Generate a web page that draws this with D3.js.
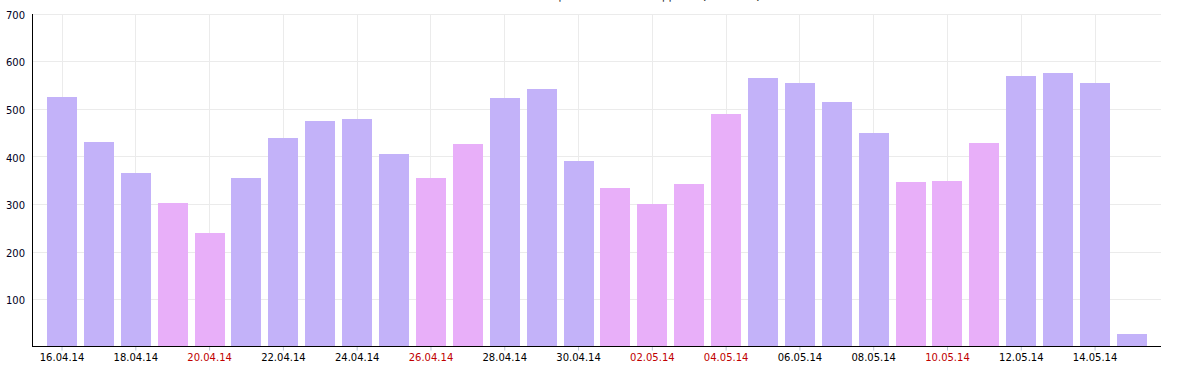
<!DOCTYPE html>
<html>
<head>
<meta charset="utf-8">
<script src="https://cdn.jsdelivr.net/npm/d3@7"></script>
<style>
  html, body { margin: 0; padding: 0; background: #fff; }
  svg { display: block; }
  text { font-family: "DejaVu Sans", Verdana, sans-serif; }
</style>
</head>
<body>
<svg id="chart" width="1178" height="366"></svg>
<script>
const dates = ["16.04.14","17.04.14","18.04.14","19.04.14","20.04.14","21.04.14","22.04.14","23.04.14","24.04.14","25.04.14",
               "26.04.14","27.04.14","28.04.14","29.04.14","30.04.14","01.05.14","02.05.14","03.05.14","04.05.14","05.05.14",
               "06.05.14","07.05.14","08.05.14","09.05.14","10.05.14","11.05.14","12.05.14","13.05.14","14.05.14","15.05.14"];
const values = [526, 431, 366, 303, 240, 356, 440, 475, 480, 406,
                356, 427, 524, 542, 391, 335, 301, 343, 490, 566,
                555, 515, 450, 347, 349, 429, 570, 576, 555, 28];
const holiday = [0,0,0,1,1,0,0,0,0,0,
                 1,1,0,0,0,1,1,1,1,0,
                 0,0,0,1,1,1,0,0,0,0];
const yTicks = [100, 200, 300, 400, 500, 600, 700];
const titleText = "Количество посещений сайта по дням (визиты)";

const svg = d3.select("#chart");
const mLeft = 33, mRight = 1161, mTop = 14, mBottom = 347.4;

const x = d3.scaleBand().domain(dates).range([mLeft, mRight]).paddingInner(0.1866).paddingOuter(0.38);
const y = d3.scaleLinear().domain([0, 700]).range([mBottom, mTop]);
const crisp = v => Math.floor(v) + 0.5;

const tickDates = dates.filter((d, i) => i % 2 === 0);
const isHoliday = d => holiday[dates.indexOf(d)] === 1;

// title (mostly cut off at the top)
svg.append("text").attr("x", 597).attr("y", 0).attr("text-anchor", "middle")
  .attr("font-size", 13).attr("fill", "#222").text(titleText);

// horizontal grid
svg.append("g").selectAll("line").data(yTicks).join("line")
  .attr("x1", mLeft).attr("x2", mRight)
  .attr("y1", d => crisp(y(d))).attr("y2", d => crisp(y(d)))
  .attr("stroke", "#ebebeb").attr("stroke-width", 1);

// vertical grid
svg.append("g").selectAll("line").data(tickDates).join("line")
  .attr("x1", d => crisp(x(d) + x.bandwidth() / 2)).attr("x2", d => crisp(x(d) + x.bandwidth() / 2))
  .attr("y1", mTop).attr("y2", mBottom)
  .attr("stroke", "#ebebeb").attr("stroke-width", 1);

// bars
svg.append("g").selectAll("rect").data(values).join("rect")
  .attr("x", (d, i) => Math.round(x(dates[i])))
  .attr("width", Math.round(x.bandwidth()))
  .attr("y", d => Math.round(y(d)))
  .attr("height", d => Math.round(y(0)) - Math.round(y(d)))
  .attr("fill", (d, i) => holiday[i] ? "#e8aff9" : "#c3b2f9");

// x axis
const xAxis = d3.axisBottom(x).tickValues(tickDates).tickSize(4).tickPadding(3);
const gx = svg.append("g").attr("transform", "translate(0,346.5)").call(xAxis);
gx.select(".domain").remove();
gx.selectAll(".tick line").attr("stroke", "#b8c4d4");
gx.selectAll(".tick text").attr("font-size", 10).attr("font-family", "DejaVu Sans, Verdana, sans-serif")
  .attr("fill", d => isHoliday(d) ? "#c00000" : "#000");

// y axis
const yAxis = d3.axisLeft(y).tickValues(yTicks).tickSize(0).tickPadding(8);
const gy = svg.append("g").attr("transform", `translate(${mLeft},0)`).call(yAxis);
gy.select(".domain").remove();
gy.selectAll(".tick text").attr("font-size", 10).attr("font-family", "DejaVu Sans, Verdana, sans-serif")
  .attr("fill", "#000022").attr("dy", "0.42em");

// axis lines
svg.append("line").attr("x1", mLeft - 0.5).attr("x2", mLeft - 0.5).attr("y1", mTop).attr("y2", 347)
  .attr("stroke", "#000").attr("stroke-width", 1);
svg.append("line").attr("x1", mLeft - 1).attr("x2", mRight).attr("y1", 346.5).attr("y2", 346.5)
  .attr("stroke", "#000").attr("stroke-width", 1);
</script>
</body>
</html>
